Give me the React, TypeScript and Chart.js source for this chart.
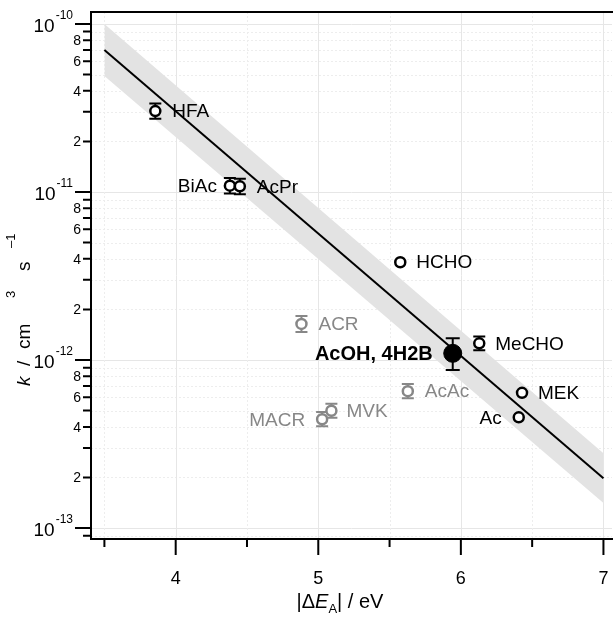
import React, { useEffect, useRef } from "react";
import { Chart, registerables } from "chart.js";
Chart.register(...registerables);

// ---- data ----
const blackNames = ["HFA", "BiAc", "AcPr", "HCHO", "MeCHO", "MEK", "Ac"];
const blackX = [3.857, 4.38, 4.45, 5.575, 6.129, 6.429, 6.406];
const blackK = [3.03e-11, 1.09e-11, 1.08e-11, 3.82e-12, 1.257e-12, 6.38e-13, 4.56e-13];
const blackKHi = [3.36e-11, 1.21e-11, 1.2e-11, 3.82e-12, 1.38e-12, 6.38e-13, 4.56e-13];
const blackKLo = [2.73e-11, 0.98e-11, 0.97e-11, 3.82e-12, 1.145e-12, 6.38e-13, 4.56e-13];

const greyNames = ["ACR", "AcAc", "MVK", "MACR"];
const greyX = [4.882, 5.628, 5.092, 5.027];
const greyK = [1.64e-12, 6.53e-13, 4.99e-13, 4.44e-13];
const greyKHi = [1.83e-12, 7.2e-13, 5.5e-13, 4.9e-13];
const greyKLo = [1.47e-12, 5.93e-13, 4.53e-13, 4.03e-13];

const mainNames = ["AcOH, 4H2B"];
const mainX = [5.943];
const mainK = [1.096e-12];
const mainKHi = [1.346e-12];
const mainKLo = [8.71e-13];

const fitX = [3.5, 7.0];
const fitK = [7.0e-11, 1.98e-13];
const bandHiK = [1.0e-10, 2.79e-13];
const bandLoK = [4.9e-11, 1.41e-13];

const xMajorTicks = [4, 5, 6, 7];
const xMinorTicks = [3.5, 4.5, 5.5, 6.5];
const yDecades = [-13, -12, -11, -10];
const yDecadeLabels = ["-13", "-12", "-11", "-10"];
const yMinorMultipliers = [2, 3, 4, 5, 6, 7, 8, 9];
const yMinorLabelled = [2, 4, 6, 8];

// ---- layout (not data) ----
const blackLabelSide = ["r", "l", "r", "r", "r", "r", "l"];
const blackLabelGap = [17, 13, 17, 16, 16, 16, 17];
const greyLabelSide = ["r", "r", "r", "l"];
const greyLabelGap = [17, 17, 15, 17];

const FONT = '"Liberation Sans", Arial, Helvetica, sans-serif';
const GREY = "#878787";

function pts(xs: number[], ys: number[]) {
  return xs.map((x, i) => ({ x, y: ys[i] }));
}

const customPlugin = {
  id: "customDraw",
  beforeDatasetsDraw(chart: any) {
    const { ctx, chartArea: a, scales } = chart;
    const xs = scales.x, ys = scales.y;
    ctx.save();
    ctx.lineWidth = 1;
    for (const d of yDecades.concat([-14])) {
      for (let m = 1; m <= 9; m++) {
        const v = m * Math.pow(10, d);
        const y = Math.round(ys.getPixelForValue(v)) + 0.5;
        if (y < a.top || y > a.bottom) continue;
        ctx.beginPath();
        if (m === 1) { ctx.setLineDash([]); ctx.strokeStyle = "#e6e6e6"; }
        else { ctx.setLineDash([2, 2]); ctx.strokeStyle = "#ededed"; }
        ctx.moveTo(a.left, y); ctx.lineTo(a.right, y); ctx.stroke();
      }
    }
    for (const t of xMajorTicks.concat(xMinorTicks)) {
      const x = Math.round(xs.getPixelForValue(t)) + 0.5;
      ctx.beginPath();
      if (Number.isInteger(t)) { ctx.setLineDash([]); ctx.strokeStyle = "#e6e6e6"; }
      else { ctx.setLineDash([2, 2]); ctx.strokeStyle = "#ededed"; }
      ctx.moveTo(x, a.top); ctx.lineTo(x, a.bottom); ctx.stroke();
    }
    ctx.restore();
  },
  beforeDatasetDraw(chart: any, args: any) {
    if (args.index !== 2) return;
    const { ctx, scales } = chart;
    const xs = scales.x, ys = scales.y;
    const drawErr = (X: number[], hi: number[], lo: number[], color: string, cap: number) => {
      ctx.save();
      ctx.strokeStyle = color;
      ctx.lineWidth = 2;
      X.forEach((xv, i) => {
        if (hi[i] === lo[i]) return;
        const px = xs.getPixelForValue(xv);
        const yh = ys.getPixelForValue(hi[i]);
        const yl = ys.getPixelForValue(lo[i]);
        ctx.beginPath();
        ctx.moveTo(px, yh); ctx.lineTo(px, yl);
        ctx.moveTo(px - cap, yh); ctx.lineTo(px + cap, yh);
        ctx.moveTo(px - cap, yl); ctx.lineTo(px + cap, yl);
        ctx.stroke();
      });
      ctx.restore();
    };
    drawErr(greyX, greyKHi, greyKLo, GREY, 6);
    drawErr(blackX, blackKHi, blackKLo, "#000", 6);
    drawErr(mainX, mainKHi, mainKLo, "#000", 7);
  },
  afterDatasetsDraw(chart: any) {
    const { ctx, scales } = chart;
    const xs = scales.x, ys = scales.y;
    ctx.save();
    ctx.textBaseline = "middle";
    const put = (names: string[], X: number[], K: number[], side: string[], gap: number[], color: string, font: string) => {
      ctx.fillStyle = color;
      ctx.font = font;
      names.forEach((n, i) => {
        const px = xs.getPixelForValue(X[i]);
        const py = ys.getPixelForValue(K[i]);
        if (side[i] === "r") { ctx.textAlign = "left"; ctx.fillText(n, px + gap[i], py + 1); }
        else { ctx.textAlign = "right"; ctx.fillText(n, px - gap[i], py + 1); }
      });
    };
    put(blackNames, blackX, blackK, blackLabelSide, blackLabelGap, "#000", `19px ${FONT}`);
    put(greyNames, greyX, greyK, greyLabelSide, greyLabelGap, GREY, `19px ${FONT}`);
    put(mainNames, mainX, mainK, ["l"], [20], "#000", `bold 20px ${FONT}`);
    ctx.restore();
  },
  afterDraw(chart: any) {
    const { ctx, chartArea: a, scales } = chart;
    const xs = scales.x, ys = scales.y;
    ctx.save();
    ctx.strokeStyle = "#000";
    ctx.fillStyle = "#000";
    ctx.lineWidth = 2;
    ctx.beginPath();
    ctx.moveTo(a.left, a.top); ctx.lineTo(a.right + 2, a.top);
    ctx.moveTo(a.left, a.top - 1); ctx.lineTo(a.left, a.bottom + 1);
    ctx.moveTo(a.left - 1, a.bottom); ctx.lineTo(a.right + 2, a.bottom);
    ctx.stroke();
    ctx.beginPath();
    for (const d of yDecades) {
      const y = ys.getPixelForValue(Math.pow(10, d));
      ctx.moveTo(a.left - 16, y); ctx.lineTo(a.left, y);
    }
    for (const d of [-14].concat(yDecades)) {
      for (const m of yMinorMultipliers) {
        const y = ys.getPixelForValue(m * Math.pow(10, d));
        if (y < a.top || y > a.bottom) continue;
        ctx.moveTo(a.left - 8, y); ctx.lineTo(a.left, y);
      }
    }
    for (const t of xMajorTicks) {
      const x = xs.getPixelForValue(t);
      ctx.moveTo(x, a.bottom); ctx.lineTo(x, a.bottom + 16);
    }
    for (const t of xMinorTicks) {
      const x = xs.getPixelForValue(t);
      ctx.moveTo(x, a.bottom); ctx.lineTo(x, a.bottom + 8);
    }
    ctx.stroke();

    ctx.textBaseline = "alphabetic";
    ctx.textAlign = "right";
    yDecades.forEach((d, i) => {
      const y = ys.getPixelForValue(Math.pow(10, d));
      ctx.font = `12px ${FONT}`;
      const sup = yDecadeLabels[i];
      const sw = ctx.measureText(sup).width;
      const right = a.left - 18;
      ctx.fillText(sup, right, y - 5);
      ctx.font = `19px ${FONT}`;
      ctx.fillText("10", right - sw - 1, y + 8);
    });
    ctx.font = `14px ${FONT}`;
    ctx.textBaseline = "middle";
    for (const d of [-14].concat(yDecades)) {
      for (const m of yMinorLabelled) {
        const y = ys.getPixelForValue(m * Math.pow(10, d));
        if (y < a.top || y > a.bottom) continue;
        ctx.fillText(String(m), a.left - 10, y + 1);
      }
    }
    ctx.textAlign = "center";
    ctx.textBaseline = "alphabetic";
    ctx.font = `18px ${FONT}`;
    for (const t of xMajorTicks) {
      ctx.fillText(String(t), xs.getPixelForValue(t), a.bottom + 45);
    }
    {
      const cx = 340;
      const base = a.bottom + 69;
      const parts = [
        { t: "|Δ", f: `20px ${FONT}`, dy: 0 },
        { t: "E", f: `italic 20px ${FONT}`, dy: 0 },
        { t: "A", f: `13px ${FONT}`, dy: 5 },
        { t: "| / eV", f: `20px ${FONT}`, dy: 0 },
      ];
      let total = 0;
      for (const p of parts) { ctx.font = p.f; total += ctx.measureText(p.t).width; }
      let x = cx - total / 2;
      ctx.textAlign = "left";
      for (const p of parts) {
        ctx.font = p.f;
        ctx.fillText(p.t, x, base + p.dy);
        x += ctx.measureText(p.t).width;
      }
    }
    {
      ctx.save();
      ctx.translate(30, 386);
      ctx.rotate(-Math.PI / 2);
      ctx.textAlign = "left";
      ctx.textBaseline = "alphabetic";
      const parts = [
        { t: "k", f: `italic 19px ${FONT}`, u: 0, dy: 0 },
        { t: "/", f: `19px ${FONT}`, u: 20, dy: 0 },
        { t: "cm", f: `19px ${FONT}`, u: 37, dy: 0 },
        { t: "3", f: `13px ${FONT}`, u: 88, dy: -15 },
        { t: "s", f: `19px ${FONT}`, u: 115, dy: 0 },
        { t: "–1", f: `13px ${FONT}`, u: 138, dy: -15 },
      ];
      for (const p of parts) {
        ctx.font = p.f;
        ctx.fillText(p.t, p.u, p.dy);
      }
      ctx.restore();
    }
    ctx.restore();
  },
};

export default function App() {
  const ref = useRef<HTMLCanvasElement | null>(null);
  useEffect(() => {
    if (!ref.current) return;
    const chart = new Chart(ref.current, {
      type: "scatter",
      data: {
        datasets: [
          {
            label: "AcOH",
            data: pts(mainX, mainK),
            pointRadius: 9,
            pointBorderWidth: 1,
            pointBackgroundColor: "#000",
            pointBorderColor: "#000",
            showLine: false,
          } as any,
          {
            label: "black",
            data: pts(blackX, blackK),
            pointRadius: 5,
            pointBorderWidth: 2.5,
            pointBackgroundColor: "#fff",
            pointBorderColor: "#000",
            showLine: false,
          },
          {
            label: "grey",
            data: pts(greyX, greyK),
            pointRadius: 5,
            pointBorderWidth: 2.5,
            pointBackgroundColor: "#fff",
            pointBorderColor: GREY,
            showLine: false,
          },
          {
            type: "line",
            label: "fit",
            data: pts(fitX, fitK),
            borderColor: "#000",
            borderWidth: 2,
            pointRadius: 0,
            fill: false,
          } as any,
          {
            type: "line",
            label: "bandHi",
            data: pts(fitX, bandHiK),
            borderWidth: 0,
            borderColor: "rgba(0,0,0,0)",
            pointRadius: 0,
            fill: "+1",
            backgroundColor: "#e3e3e3",
          } as any,
          {
            type: "line",
            label: "bandLo",
            data: pts(fitX, bandLoK),
            borderWidth: 0,
            borderColor: "rgba(0,0,0,0)",
            pointRadius: 0,
            fill: false,
          } as any,
        ],
      },
      options: {
        animation: false,
        responsive: false,
        events: [],
        layout: { autoPadding: false, padding: { left: 91, top: 12, right: 1, bottom: 82 } },
        plugins: { legend: { display: false }, tooltip: { enabled: false } },
        scales: {
          x: { type: "linear", min: 3.406, max: 7.06, display: false },
          y: { type: "logarithmic", min: Math.pow(10, -13.065), max: Math.pow(10, -9.929), display: false },
        },
      },
      plugins: [customPlugin],
    } as any);
    return () => chart.destroy();
  }, []);
  return (
    <div style={{ position: "fixed", left: 0, top: 0, width: 613, height: 621, background: "#fff" }}>
      <canvas ref={ref} width={613} height={621} style={{ display: "block" }} />
    </div>
  );
}
